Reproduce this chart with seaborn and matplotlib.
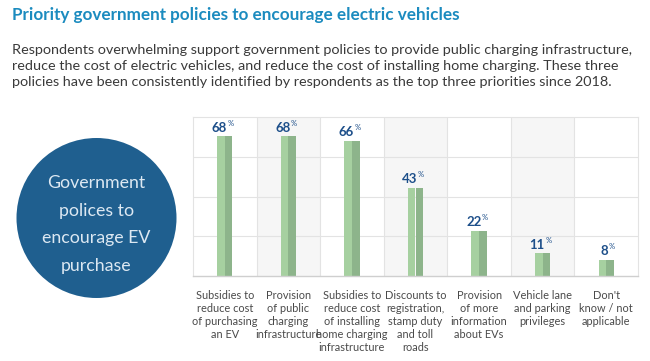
import seaborn as sns
import matplotlib.pyplot as plt
import pandas as pd
from matplotlib.patches import Circle

# 数据
categories = [
    "Subsidies to\nreduce cost\nof purchasing\nan EV",
    "Provision\nof public\ncharging\ninfrastructure",
    "Subsidies to\nreduce cost\nof installing\nhome charging\ninfrastructure",
    "Discounts to\nregistration,\nstamp duty\nand toll\nroads",
    "Provision\nof more\ninformation\nabout EVs",
    "Vehicle lane\nand parking\nprivileges",
    "Don't\nknow / not\napplicable",
]
values = [68, 68, 66, 43, 22, 11, 8]

title = "Priority government policies to encourage electric vehicles"
subtitle = ("Respondents overwhelming support government policies to provide public charging infrastructure,\n"
            "reduce the cost of electric vehicles, and reduce the cost of installing home charging. These three\n"
            "policies have been consistently identified by respondents as the top three priorities since 2018.")
circle_text = "Government\npolices to\nencourage EV\npurchase"

# 每根柱子分成左右两半（浅色 / 深色）
df = pd.DataFrame({
    "pos": list(range(len(values))) * 2,
    "value": values * 2,
    "side": ["light"] * len(values) + ["dark"] * len(values),
})

sns.set_style("white")
plt.rcParams['font.family'] = ['Lato', 'DejaVu Sans']

fig = plt.figure(figsize=(6.5, 3.61), dpi=100)
ax = fig.add_axes([193 / 650, 1 - 276 / 361, 445 / 650, 159 / 361])

ymax = 77.5
# 交替的列背景和竖线
for i in range(len(values)):
    if i % 2 == 1:
        ax.axvspan(i - 0.5, i + 0.5, color="#f6f6f6", zorder=0, lw=0)
    if i < len(values) - 1:
        ax.axvline(i + 0.5, color="#e3e3e3", lw=0.8, zorder=0.5)
for k in range(1, 4):
    ax.axhline(ymax * k / 4, color="#e3e3e3", lw=0.8, zorder=0.5)

sns.barplot(data=df, x="pos", y="value", hue="side", order=list(range(len(values))),
            hue_order=["light", "dark"], palette=["#a6d0a0", "#8db48b"],
            width=0.24, gap=0, dodge=True, saturation=1, legend=False, ax=ax, zorder=2,
            linewidth=0)

# 数值标签，% 作上标
for i, v in enumerate(values):
    ax.annotate(str(v), (i, v), xytext=(1.6, 3.4), textcoords="offset points",
                ha="right", va="baseline", fontsize=9.5, fontweight="bold", color="#1d4f8a")
    ax.annotate("%", (i, v), xytext=(1.8, 7.6), textcoords="offset points",
                ha="left", va="baseline", fontsize=5.5, color="#1d4f8a")

ax.set_xlim(-0.5, len(values) - 0.5)
ax.set_ylim(0, ymax)
ax.set_yticks([])
ax.set_xticks(range(len(values)))
ax.set_xticklabels(categories, fontsize=7.9, color="#4a4a4a", linespacing=1.22)
ax.tick_params(axis="x", length=0, pad=10)
ax.set_xlabel("")
ax.set_ylabel("")
for s in ["left", "right", "top"]:
    ax.spines[s].set_color("#e3e3e3")
    ax.spines[s].set_linewidth(0.8)
ax.spines["bottom"].set_color("#cfcfcf")
ax.spines["bottom"].set_linewidth(1)

# 标题和说明
fig.text(12 / 650, 1 - 15 / 361, title, fontsize=12.3, fontweight="bold", color="#1b8bbf",
         ha="left", va="center")
fig.text(12 / 650, 1 - 66 / 361, subtitle, fontsize=10.35, color="#3a3a3a",
         ha="left", va="center", linespacing=1.4)

# 左侧圆形
fig.add_artist(Circle((0.965, (361 - 218) / 100), 0.80, transform=fig.dpi_scale_trans,
                      color="#1f5f8f", lw=0))
fig.text(96.5 / 650, 1 - 224.5 / 361, circle_text, fontsize=12.8, color="#dce8f2",
         ha="center", va="center", linespacing=1.88)

fig.savefig("out.png", dpi=100)
